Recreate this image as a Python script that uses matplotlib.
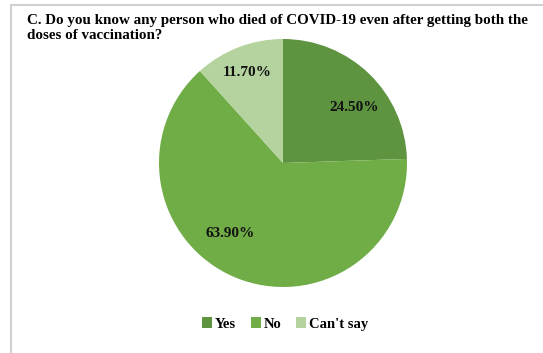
import matplotlib
matplotlib.use('Agg')

import matplotlib.pyplot as plt
from matplotlib.patches import Rectangle

# Survey answers and their shares (percent)
labels = ['Yes', 'No', "Can't say"]
shares = [24.5, 63.9, 11.7]
colors = ['#5e9440', '#70ad47', '#b4d39e']

title = ('C. Do you know any person who died of COVID-19 even after getting both the\n'
         'doses of vaccination?')

# where each percentage sits inside the pie (axes data units, radius = 1)
label_xy = [(0.57, 0.45), (-0.43, -0.57), (-0.29, 0.73)]

plt.rcParams['font.family'] = ['Liberation Serif', 'DejaVu Serif']

fig = plt.figure(figsize=(5.43, 3.53), dpi=100)
fig.patch.set_facecolor('white')

# light grey chart frame running off the right and bottom edges
fig.patches.append(Rectangle((11 / 543, -0.1), 1.2, 1.1 - 5 / 353,
                             transform=fig.transFigure, fill=False,
                             edgecolor='#d0d0d0', linewidth=1.5))

fig.text(27 / 543, 1 - 14 / 353, title, ha='left', va='top',
         fontsize=10.8, fontweight='bold', linespacing=1.2)

ax = fig.add_axes([159 / 543, 66 / 353, 248 / 543, 248 / 353])
wedges, texts, autotexts = ax.pie(shares, colors=colors, startangle=90,
                                  counterclock=False, autopct='%.2f%%',
                                  radius=1.0,
                                  wedgeprops=dict(linewidth=0),
                                  textprops=dict(fontsize=11, fontweight='bold',
                                                 color='#111111'))
# show the surveyed values as reported, not renormalised
for t, s, xy in zip(autotexts, shares, label_xy):
    t.set_text(f'{s:.2f}%')
    t.set_position(xy)

ax.set_xlim(-1, 1)
ax.set_ylim(-1, 1)
ax.set_aspect('auto')

fig.legend(wedges, labels, loc='center', bbox_to_anchor=(285 / 543, 1 - 324 / 353),
           ncol=3, frameon=False, handlelength=0.7, handleheight=0.7,
           handletextpad=0.2, columnspacing=1.0,
           prop=dict(size=10.5, weight='bold'))

fig.savefig('out.png', dpi=100)
